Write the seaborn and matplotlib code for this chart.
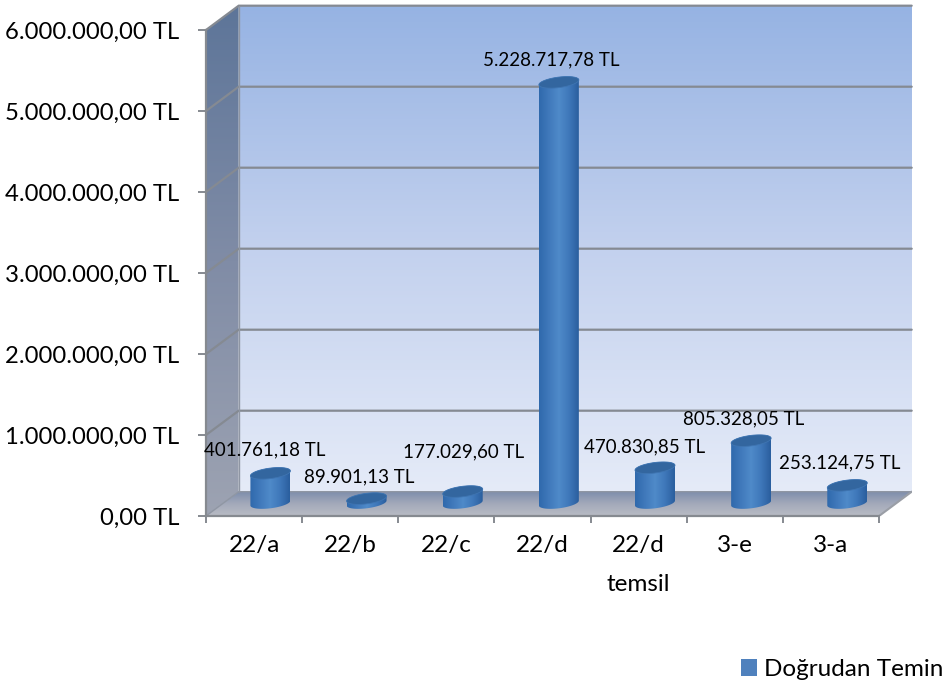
import numpy as np
import pandas as pd
import matplotlib
matplotlib.use('Agg')
import matplotlib.pyplot as plt
import seaborn as sns
from matplotlib.colors import LinearSegmentedColormap
from matplotlib.patches import Patch, Polygon
from matplotlib.ticker import FuncFormatter

categories = ['22/a', '22/b', '22/c', '22/d', '22/d\ntemsil', '3-e', '3-a']
values = [401761.18, 89901.13, 177029.60, 5228717.78, 470830.85, 805328.05, 253124.75]
value_labels = ['401.761,18 TL', '89.901,13 TL', '177.029,60 TL', '5.228.717,78 TL',
                '470.830,85 TL', '805.328,05 TL', '253.124,75 TL']
series_name = 'Doğrudan Temin'
y_ticks = [0, 1000000, 2000000, 3000000, 4000000, 5000000, 6000000]

# label offsets from the top of each cylinder, in pixels
label_dx = [-6, -7, 1, -8, -10, -8, -8]
label_dy = [23, 22, 40, 22, 21, 22, 22]

DEPTH_X = 0.34
DEPTH_Y = 300000
BASE = 125000
BASE_BOTTOM = 160000
ELLIPSE_H = 130000
TILT = 30000

sns.set_theme(style='white')
plt.rcParams['font.family'] = ['Lato', 'DejaVu Sans']

def tr_money(v, pos=None):
    s = f'{v:,.2f}'.replace(',', 'X').replace('.', ',').replace('X', '.')
    return s + ' TL'

def gradient_fill(ax, verts, colors, horizontal=False, zorder=1):
    verts = np.array(verts)
    cmap = LinearSegmentedColormap.from_list('g', colors)
    grad = np.linspace(0, 1, 256)
    grad = grad.reshape(1, -1) if horizontal else grad.reshape(-1, 1)
    ext = [verts[:, 0].min(), verts[:, 0].max(), verts[:, 1].min(), verts[:, 1].max()]
    im = ax.imshow(grad, cmap=cmap, extent=ext, origin='lower', aspect='auto',
                   zorder=zorder, interpolation='bilinear')
    poly = Polygon(verts, closed=True, transform=ax.transData, facecolor='none', edgecolor='none')
    ax.add_patch(poly)
    im.set_clip_path(poly)
    return im

fig = plt.figure(figsize=(9.47, 6.83), dpi=100)
ax = fig.add_axes([206 / 947, 1 - 516 / 683, 705.7 / 947, 510.3 / 683])

df = pd.DataFrame({'kategori': categories, 'tutar': values})
sns.barplot(data=df, x='kategori', y='tutar', width=0.416, color='#4f81bd', ax=ax)
bars = list(ax.patches)

xmin, xmax = -0.5, 6.5
ymax = 6000000

# walls
gradient_fill(ax, [(xmin + DEPTH_X, DEPTH_Y), (xmax + DEPTH_X, DEPTH_Y),
                   (xmax + DEPTH_X, ymax + DEPTH_Y), (xmin + DEPTH_X, ymax + DEPTH_Y)],
              ['#e5ebf8', '#c3d1ee', '#96b3e3'])
gradient_fill(ax, [(xmin, 0), (xmin + DEPTH_X, DEPTH_Y),
                   (xmin + DEPTH_X, ymax + DEPTH_Y), (xmin, ymax)],
              ['#9da3b2', '#808ca6', '#5d7599'])
gradient_fill(ax, [(xmin, 0), (xmax, 0), (xmax + DEPTH_X, DEPTH_Y), (xmin + DEPTH_X, DEPTH_Y)],
              ['#b9bcc4', '#a3a9ba', '#7c8cab'])

# grid lines on side and back wall
grid_color = '#858a92'
for t in y_ticks[1:]:
    ax.plot([xmin, xmin + DEPTH_X, xmax + DEPTH_X], [t, t + DEPTH_Y, t + DEPTH_Y],
            color=grid_color, lw=1.6, zorder=2, clip_on=False, solid_joinstyle='miter')
ax.plot([xmin + DEPTH_X, xmin + DEPTH_X], [DEPTH_Y, ymax + DEPTH_Y], color='#8f96a3', lw=1, zorder=2)
ax.plot([xmin, xmin + DEPTH_X, xmax + DEPTH_X], [0, DEPTH_Y, DEPTH_Y], color='#8f96a3', lw=1, zorder=2)
ax.plot([xmax, xmax + DEPTH_X, xmax + DEPTH_X], [0, DEPTH_Y, DEPTH_Y], color='#9a9ea6', lw=1.5, zorder=2)

# cylinders, built from the seaborn bars
t_top = np.linspace(0, np.pi, 40)
t_bot = np.linspace(np.pi, 2 * np.pi, 40)
for i, bar in enumerate(bars):
    bar.set_visible(False)
    cx = bar.get_x() + bar.get_width() / 2 + DEPTH_X / 2
    w = bar.get_width()
    h = bar.get_height()
    top = BASE + h

    def arc(t, cy):
        return np.column_stack([cx + w / 2 * np.cos(t),
                                cy + ELLIPSE_H / 2 * np.sin(t) + TILT * np.cos(t)])

    body = np.vstack([arc(t_bot, BASE_BOTTOM), arc(t_top, top)])
    gradient_fill(ax, body, ['#2f69ac', '#4079bb', '#4f8ac9', '#3f78ba', '#2a5e9e'],
                  horizontal=True, zorder=3)
    cap = np.vstack([arc(t_top, top), arc(t_bot, top)])
    ax.add_patch(Polygon(cap, closed=True, facecolor='#33669f', edgecolor='#3f75b2',
                         lw=0.6, zorder=4))
    ax.annotate(value_labels[i], (cx, top), xytext=(label_dx[i], label_dy[i]),
                textcoords='offset pixels', ha='center', va='center',
                fontsize=13.5, color='black', zorder=6, annotation_clip=False)

ax.set_xlim(xmin, xmax + DEPTH_X)
ax.set_ylim(0, ymax + DEPTH_Y)
ax.set_xlabel('')
ax.set_ylabel('')

for side in ['top', 'right']:
    ax.spines[side].set_visible(False)
for side in ['left', 'bottom']:
    ax.spines[side].set_visible(True)
    ax.spines[side].set_color('#868a90')
    ax.spines[side].set_linewidth(1.6)
    ax.spines[side].set_zorder(5)
ax.spines['left'].set_bounds(0, ymax)
ax.spines['bottom'].set_bounds(xmin, xmax)

ax.set_yticks(y_ticks)
ax.yaxis.set_major_formatter(FuncFormatter(tr_money))
ax.set_xticks(range(len(categories)))
ax.set_xticklabels(categories, linespacing=2.05)
ax.set_xticks(np.arange(xmin, xmax + 0.5), minor=True)
ax.tick_params(axis='y', which='major', left=True, length=6, width=1.4, color='#868a90',
               labelsize=17.2, labelcolor='black', pad=13)
ax.tick_params(axis='x', which='major', bottom=False, labelsize=17.5, labelcolor='black', pad=8)
ax.tick_params(axis='x', which='minor', bottom=True, length=5, width=1.4, color='#868a90')

handle = Patch(facecolor='#4f81bd', edgecolor='none', label=series_name)
fig.legend(handles=[handle], loc='lower right', bbox_to_anchor=(943 / 947, 3 / 683),
           frameon=False, fontsize=17.5, handlelength=0.66, handleheight=0.66,
           handletextpad=0.29, borderpad=0, borderaxespad=0, labelcolor='black')

fig.savefig('out.png', dpi=100)
